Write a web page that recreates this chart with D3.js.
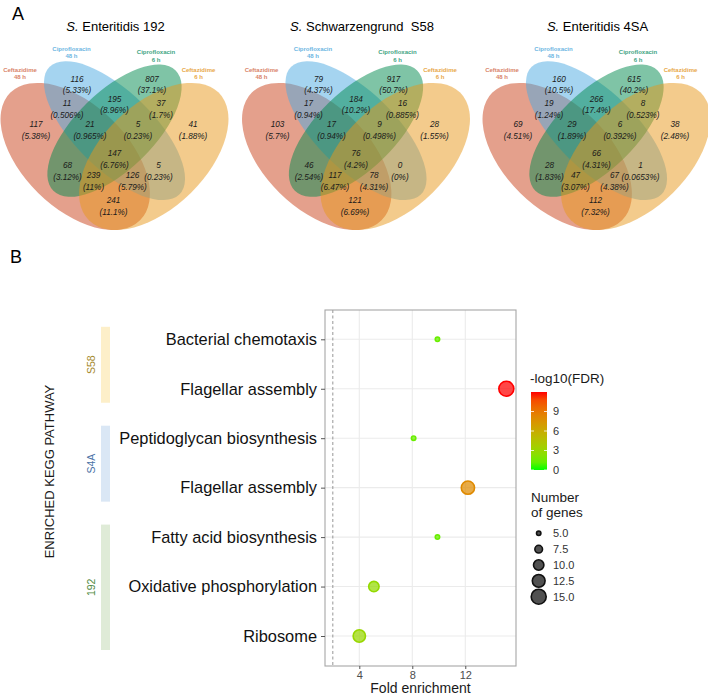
<!DOCTYPE html>
<html><head><meta charset="utf-8">
<script src="https://cdn.jsdelivr.net/npm/d3@7"></script>
<style>
body{margin:0;background:#fff}
svg{display:block}
text{font-family:"Liberation Sans",Arial,Helvetica,sans-serif}
</style>
</head><body>
<svg id="chart" width="708" height="696"></svg>
<script>
// ---------------- DATA ----------------
// Panel A: four-set Venn diagrams
const setLabels = [["Ceftazidime","48 h"],["Ciprofloxacin","48 h"],["Ciprofloxacin","6 h"],["Ceftazidime","6 h"]];
const vennTitles = [["S.", " Enteritidis 192"], ["S.", " Schwarzengrund  S58"], ["S.", " Enteritidis 4SA"]];
// region order: A=Ceftazidime 48h, B=Ciprofloxacin 48h, C=Ciprofloxacin 6h, D=Ceftazidime 6h
const regionKeys = ["A","B","C","D","AB","BC","CD","ABC","BCD","ABCD","AC","BD","ACD","ABD","AD"];
const counts192 = [117,116,807,41,11,195,37,21,5,147,68,5,239,126,241];
const pct192    = ["5.38","5.33","37.1","1.88","0.506","8.96","1.7","0.965","0.23","6.76","3.12","0.23","11","5.79","11.1"];
const countsS58 = [103,79,917,28,17,184,16,17,9,76,46,0,117,78,121];
const pctS58    = ["5.7","4.37","50.7","1.55","0.94","10.2","0.885","0.94","0.498","4.2","2.54","0","6.47","4.31","6.69"];
const counts4SA = [69,160,615,38,19,266,8,29,6,66,28,1,47,67,112];
const pct4SA    = ["4.51","10.5","40.2","2.48","1.24","17.4","0.523","1.89","0.392","4.31","1.83","0.0653","3.07","4.38","7.32"];

// Panel B: enriched KEGG pathways
const pathways = ["Bacterial chemotaxis","Flagellar assembly","Peptidoglycan biosynthesis","Flagellar assembly","Fatty acid biosynthesis","Oxidative phosphorylation","Ribosome"];
const pathwayGroup = ["S58","S58","S4A","S4A","192","192","192"];
const foldEnrichment = [9.9,15.1,8.1,12.2,9.9,5.1,4.0];
const negLog10FDR = [1.3,12,1.3,8,1.3,2.8,3.0];
const geneCount = [5,15,5,13,5,10,12];
const groups = ["S58","S4A","192"];
const xTicks = [4,8,12];
const fdrTicks = [0,3,6,9];
const sizeTicks = [5,7.5,10,12.5,15];
const thresholdX = 2;

// ---------------- LAYOUT / STYLE ----------------
const svg = d3.select("#chart");
const vennCounts = [counts192, countsS58, counts4SA];
const vennPct = [pct192, pctS58, pct4SA];
const vennCx = [114.5, 356, 596.5];
const vennSx = 262, vennSy = 258, vennOy = 277.7;
const ellipseGeom = [
  {x:.35,y:.47,a:.35,b:.20,rot:135},
  {x:.50,y:.57,a:.35,b:.15,rot:135},
  {x:.50,y:.57,a:.33,b:.15,rot:45},
  {x:.65,y:.47,a:.35,b:.20,rot:45}];
const ellipseFill = ["#C94119","#4BA9E1","#00894D","#E79719"];
const setLabelColor = ["#D9846A","#6DB6E2","#3FA583","#E8A84A"];
const setLabelPos = [[-94.5,71.5],[-43,50.5],[41.5,54],[84,71.5]];
const regionPos = {
  A:[-78.5,124], B:[-37.5,78.5], C:[37.5,78.5], D:[78.5,124],
  AB:[-47.5,103], BC:[0,98.5], CD:[46.5,103],
  ABC:[-24.5,124], BCD:[23.5,124], ABCD:[0,153],
  AC:[-47,165], BD:[44,165], ACD:[-21,175], ABD:[18,175], AD:[-1,200]};

svg.append("text").attr("x",12).attr("y",20).attr("font-size",18).text("A");
svg.append("text").attr("x",10).attr("y",263).attr("font-size",18).text("B");

vennCounts.forEach((counts, k) => {
  const cx = vennCx[k];
  const g = svg.append("g");
  const eg = g.append("g")
    .attr("transform", `translate(${cx},${vennOy}) scale(${vennSx},${-vennSy}) translate(-0.5,0)`);
  eg.selectAll("ellipse").data(ellipseGeom).join("ellipse")
    .attr("transform", d => `translate(${d.x},${d.y}) rotate(${d.rot})`)
    .attr("rx", d => d.a).attr("ry", d => d.b)
    .attr("fill", (d,i) => ellipseFill[i]).attr("fill-opacity", 0.5);
  // title
  const t = g.append("text").attr("x", cx + (k===1?6:1)).attr("y", 31)
    .attr("text-anchor","middle").attr("font-size",13).style("white-space","pre");
  t.append("tspan").attr("font-style","italic").text(vennTitles[k][0]);
  t.append("tspan").text(vennTitles[k][1]);
  // set labels
  setLabels.forEach((lab, i) => {
    const tt = g.append("text").attr("x", cx + setLabelPos[i][0]).attr("y", setLabelPos[i][1])
      .attr("text-anchor","middle").attr("font-size",6).attr("font-weight","bold")
      .attr("fill", setLabelColor[i]);
    tt.append("tspan").attr("x", cx + setLabelPos[i][0]).attr("dy",0).text(lab[0]);
    tt.append("tspan").attr("x", cx + setLabelPos[i][0]).attr("dy",7.6).text(lab[1]);
  });
  // region labels
  regionKeys.forEach((key, i) => {
    const [dx, y] = regionPos[key];
    const tx = g.append("text").attr("text-anchor","middle")
      .attr("font-family","'Liberation Serif','Times New Roman',serif")
      .attr("font-style","italic").attr("font-size",8.2).attr("fill","#1a1a1a");
    tx.append("tspan").attr("x", cx+dx).attr("y", y+3).text(counts[i]);
    tx.append("tspan").attr("x", cx+dx).attr("y", y+14.5).text("(" + vennPct[k][i] + "%)");
  });
});

// ---------------- PANEL B ----------------
const panel = {l:325, r:516, t:310, b:666};
const x = d3.scaleLinear().domain([1.41, 15.83]).range([panel.l, panel.r]);
const rowIds = pathways.map((p,i) => i);
const y = d3.scalePoint().domain(rowIds).range([339.3, 636]);
const color = d3.scaleLinear().domain([0,12]).range(["#00FF00","#FF0000"]).interpolate(d3.interpolateLab).clamp(true);
const size = d3.scalePow().exponent(0.5).domain([5,15]).range([3,8.3]);

const pg = svg.append("g");
pg.append("rect").attr("x",panel.l).attr("y",panel.t).attr("width",panel.r-panel.l).attr("height",panel.b-panel.t).attr("fill","#fff");
// grid
pg.selectAll("line.hg").data(rowIds).join("line").attr("class","hg")
  .attr("x1",panel.l).attr("x2",panel.r).attr("y1",d=>y(d)).attr("y2",d=>y(d))
  .attr("stroke","#EBEBEB").attr("stroke-width",1.1);
pg.selectAll("line.vg").data(xTicks).join("line").attr("class","vg")
  .attr("y1",panel.t).attr("y2",panel.b).attr("x1",d=>x(d)).attr("x2",d=>x(d))
  .attr("stroke","#EBEBEB").attr("stroke-width",1.1);
// threshold
pg.append("line").attr("x1",x(thresholdX)).attr("x2",x(thresholdX)).attr("y1",panel.t).attr("y2",panel.b)
  .attr("stroke","#8a8a8a").attr("stroke-width",0.9).attr("stroke-dasharray","3,2.5");
// points
const pts = rowIds.map(i => ({i, fe:foldEnrichment[i], f:negLog10FDR[i], n:geneCount[i]}));
pg.selectAll("circle.pt").data(pts).join("circle").attr("class","pt")
  .attr("cx",d=>x(d.fe)).attr("cy",d=>y(d.i)).attr("r",d=>size(d.n)-0.8)
  .attr("fill",d=>color(d.f)).attr("fill-opacity",0.72)
  .attr("stroke",d=>color(d.f)).attr("stroke-width",1.6);
// border
pg.append("rect").attr("x",panel.l).attr("y",panel.t).attr("width",panel.r-panel.l).attr("height",panel.b-panel.t)
  .attr("fill","none").attr("stroke","#A6A6A6").attr("stroke-width",1.1);

// x axis
const xAxis = d3.axisBottom(x).tickValues(xTicks).tickSize(3).tickPadding(2);
const xa = svg.append("g").attr("transform",`translate(0,${panel.b})`).call(xAxis);
xa.select(".domain").remove();
xa.selectAll(".tick line").attr("stroke","#555");
xa.selectAll(".tick text").attr("font-size",11).attr("fill","#4D4D4D").attr("font-family","Liberation Sans, Arial, sans-serif");
svg.append("text").attr("x",(panel.l+panel.r)/2).attr("y",693).attr("text-anchor","middle").attr("font-size",14).attr("fill","#1a1a1a").text("Fold enrichment");

// y axis
const yAxis = d3.axisLeft(y).tickFormat(i => pathways[i]).tickSize(4).tickPadding(4);
const ya = svg.append("g").attr("transform",`translate(${panel.l},0)`).call(yAxis);
ya.select(".domain").remove();
ya.selectAll(".tick line").attr("stroke","#555");
ya.selectAll(".tick text").attr("font-size",16.4).attr("fill","#111").attr("font-family","Liberation Sans, Arial, sans-serif");
svg.append("text").attr("transform","translate(54,471.5) rotate(-90)").attr("text-anchor","middle")
  .attr("font-size",13).attr("fill","#1a1a1a").text("ENRICHED KEGG PATHWAY");

// group bars
const groupFill = {"S58":"#FDEFC9","S4A":"#DAE7F5","192":"#DFEBD7"};
const groupText = {"S58":"#A68A2E","S4A":"#4A72A6","192":"#4F8A3F"};
groups.forEach(gname => {
  const rows = rowIds.filter(i => pathwayGroup[i] === gname);
  const y0 = y(d3.min(rows)) - 12.5, y1 = y(d3.max(rows)) + 14;
  svg.append("rect").attr("x",101).attr("y",y0).attr("width",9).attr("height",y1-y0).attr("fill",groupFill[gname]);
  svg.append("text").attr("transform",`translate(94.5,${(y0+y1)/2}) rotate(-90)`).attr("text-anchor","middle")
    .attr("font-size",10.5).attr("fill",groupText[gname]).text(gname);
});

// colour legend
svg.append("text").attr("x",530).attr("y",383).attr("font-size",13.5).attr("fill","#1a1a1a").text("-log10(FDR)");
const fy = d3.scaleLinear().domain([0,12]).range([470,392]);
const defs = svg.append("defs");
const grad = defs.append("linearGradient").attr("id","fdrGrad").attr("x1",0).attr("y1",1).attr("x2",0).attr("y2",0);
d3.range(0,1.0001,0.1).forEach(tt => grad.append("stop").attr("offset",tt).attr("stop-color",color(tt*12)));
svg.append("rect").attr("x",531).attr("y",fy(12)).attr("width",16).attr("height",fy(0)-fy(12)).attr("fill","url(#fdrGrad)");
fdrTicks.forEach(v => {
  svg.append("line").attr("x1",531).attr("x2",534).attr("y1",fy(v)).attr("y2",fy(v)).attr("stroke","#fff").attr("stroke-width",0.8);
  svg.append("line").attr("x1",544).attr("x2",547).attr("y1",fy(v)).attr("y2",fy(v)).attr("stroke","#fff").attr("stroke-width",0.8);
  svg.append("text").attr("x",553).attr("y",fy(v)).attr("dy","0.35em").attr("font-size",11).attr("fill","#333").text(v);
});

// size legend
svg.append("text").attr("x",531).attr("y",502).attr("font-size",13.5).attr("fill","#1a1a1a")
  .selectAll("tspan").data(["Number","of genes"]).join("tspan").attr("x",531).attr("dy",(d,i)=>i?15:0).text(d=>d);
const sy = d3.scalePoint().domain(sizeTicks).range([533.3,596.7]);
sizeTicks.forEach(v => {
  svg.append("circle").attr("cx",538.7).attr("cy",sy(v)).attr("r",size(v)-0.8)
    .attr("fill","#333").attr("fill-opacity",0.85).attr("stroke","#111").attr("stroke-width",1.6);
  svg.append("text").attr("x",553).attr("y",sy(v)).attr("dy","0.35em").attr("font-size",11).attr("fill","#333").text(d3.format(".1f")(v));
});
</script>
</body></html>
